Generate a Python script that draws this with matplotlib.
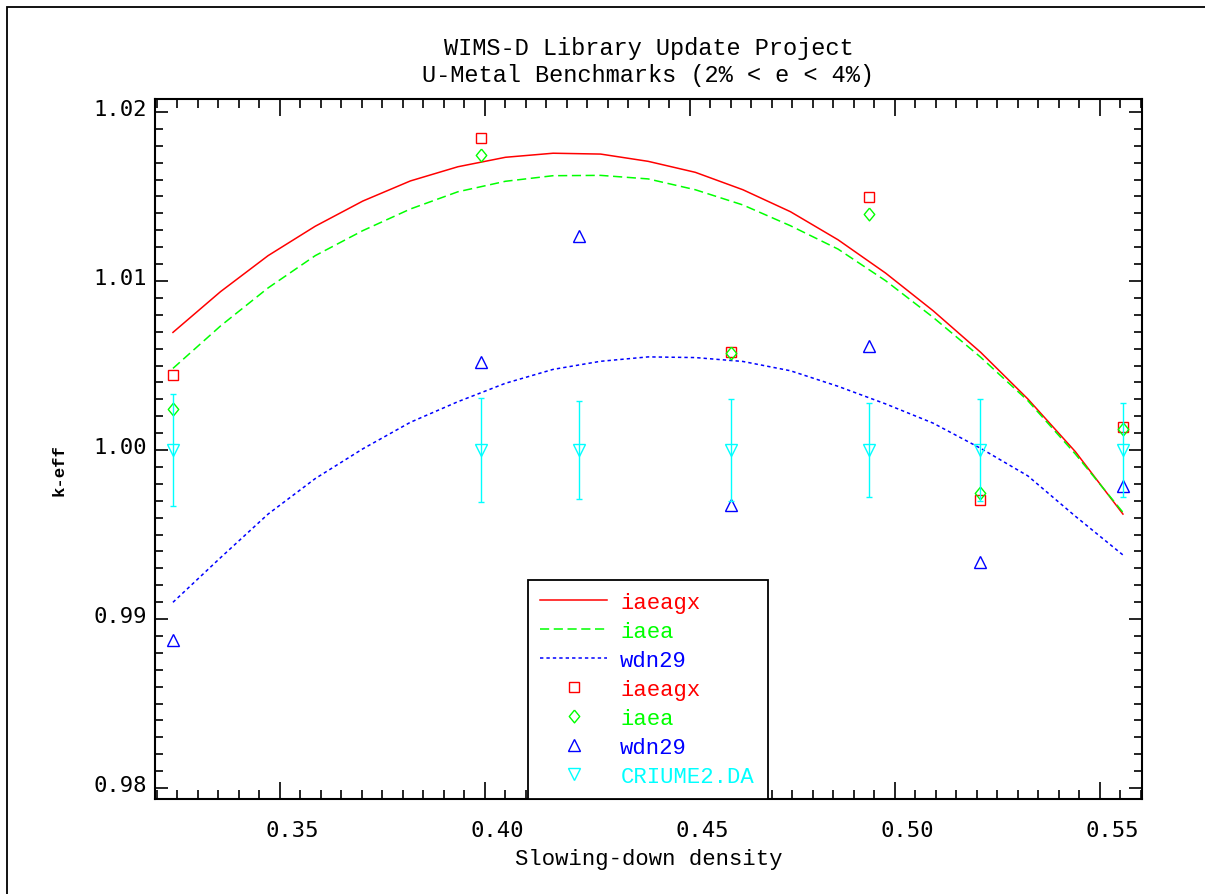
import matplotlib
matplotlib.use("Agg")
import matplotlib.pyplot as plt
from matplotlib.legend_handler import HandlerLine2D
from matplotlib.patches import Rectangle
from matplotlib.ticker import MultipleLocator, FormatStrFormatter
from matplotlib.transforms import ScaledTranslation

# Fitted k-eff curves against slowing-down density
sd_fit = [0.3239, 0.3355, 0.3471, 0.3586, 0.3702, 0.3818, 0.3934, 0.4050,
          0.4166, 0.4282, 0.4398, 0.4513, 0.4629, 0.4745, 0.4861, 0.4977,
          0.5093, 0.5209, 0.5324, 0.5440, 0.5556]
fit_iaeagx = [1.00696, 1.00937, 1.01150, 1.01324, 1.01473, 1.01592, 1.01676,
              1.01732, 1.01756, 1.01751, 1.01708, 1.01643, 1.01540, 1.01410,
              1.01244, 1.01047, 1.00824, 1.00578, 1.00302, 0.99990, 0.99621]
fit_iaea = [1.00483, 1.00734, 1.00959, 1.01150, 1.01298, 1.01426, 1.01528,
            1.01590, 1.01623, 1.01625, 1.01604, 1.01540, 1.01450, 1.01327,
            1.01189, 1.01002, 1.00785, 1.00549, 1.00292, 0.99976, 0.99631]
fit_wdn29 = [0.99099, 0.99363, 0.99621, 0.99831, 1.00007, 1.00164, 1.00286,
             1.00395, 1.00477, 1.00525, 1.00551, 1.00547, 1.00524, 1.00469,
             1.00377, 1.00273, 1.00159, 1.00010, 0.99847, 0.99608, 0.99379]

# Benchmark results
sd_lib = [0.3239, 0.3990, 0.4599, 0.4937, 0.5207, 0.5557]
keff_iaeagx = [1.00444, 1.01844, 1.00578, 1.01499, 0.99704, 1.00134]
keff_iaea = [1.00243, 1.01746, 1.00575, 1.01396, 0.99745, 1.00124]

sd_bench = [0.3239, 0.3990, 0.4229, 0.4599, 0.4937, 0.5207, 0.5557]
keff_wdn29 = [0.98878, 1.00521, 1.01264, 0.99675, 1.00617, 0.99337, 0.99785]
keff_exp = [1.0, 1.0, 1.0, 1.0, 1.0, 1.0, 1.0]
keff_exp_err = [0.0033, 0.0031, 0.0029, 0.0030, 0.0028, 0.0030, 0.0028]

RED, GREEN, BLUE, CYAN = "#ff0000", "#00ff00", "#0000ff", "#00ffff"
MONO = "Liberation Mono"
DIGITS = "DejaVu Sans Mono"

# open diamond, a bit narrower than tall
diamond = [(0, 1), (0.82, 0), (0, -1), (-0.82, 0), (0, 1)]


class MarkerAtEnd(HandlerLine2D):
    """Put the single legend marker at the right end of the handle box."""

    def get_xdata(self, legend, xdescent, ydescent, width, height, fontsize):
        return [-xdescent, -xdescent + width], [-xdescent + width - 0.3 * fontsize]


fig = plt.figure(figsize=(12.05, 8.95), dpi=100)
ax = fig.add_axes([0.1286, 0.1061, 0.8191, 0.7822])

l_gx, = ax.plot(sd_fit, fit_iaeagx, color=RED, lw=1.1, ls="-")
l_ia, = ax.plot(sd_fit, fit_iaea, color=GREEN, lw=1.1, ls=(0, (6, 3)))
l_wd, = ax.plot(sd_fit, fit_wdn29, color=BLUE, lw=1.1, ls=(0, (2.2, 2)))

m_gx, = ax.plot(sd_lib, keff_iaeagx, ls="none", marker="s", ms=7.6,
                mfc="none", mec=RED, mew=1.0)
m_ia, = ax.plot(sd_lib, keff_iaea, ls="none", marker=diamond, ms=9.2,
                mfc="none", mec=GREEN, mew=1.0)
m_wd, = ax.plot(sd_bench, keff_wdn29, ls="none", marker="^", ms=8.5,
                mfc="none", mec=BLUE, mew=1.0)
eb = ax.errorbar(sd_bench, keff_exp, yerr=keff_exp_err, fmt="v", ms=9,
                 mfc="none", mec=CYAN, mew=1.0, ecolor=CYAN, elinewidth=1.0,
                 capsize=2.5, capthick=1.0)
m_ex = eb.lines[0]

ax.set_xlim(0.31951, 0.56024)
ax.set_ylim(0.97935, 1.02077)
ax.xaxis.set_major_locator(MultipleLocator(0.05))
ax.xaxis.set_minor_locator(MultipleLocator(0.005))
ax.yaxis.set_major_locator(MultipleLocator(0.01))
ax.yaxis.set_minor_locator(MultipleLocator(0.001))
ax.xaxis.set_major_formatter(FormatStrFormatter("%.2f"))
ax.yaxis.set_major_formatter(FormatStrFormatter("%.2f"))

ax.tick_params(which="both", direction="in", top=True, right=True,
               width=1.2, labelsize=16)
ax.tick_params(axis="x", which="major", length=12, pad=15)
ax.tick_params(axis="x", which="minor", length=6.5)
ax.tick_params(axis="y", which="major", length=9.5, pad=6)
ax.tick_params(axis="y", which="minor", length=5.5)
for sp in ax.spines.values():
    sp.set_linewidth(1.5)

for lab in ax.get_xticklabels():
    lab.set_fontfamily(DIGITS)
    lab.set_transform(lab.get_transform()
                      + ScaledTranslation(0.12, 0, fig.dpi_scale_trans))
for lab in ax.get_yticklabels():
    lab.set_fontfamily(DIGITS)
    lab.set_transform(lab.get_transform()
                      + ScaledTranslation(0, 0.05, fig.dpi_scale_trans))

ax.set_title("WIMS-D Library Update Project\nU-Metal Benchmarks (2% < e < 4%)",
             fontfamily=MONO, fontsize=17, linespacing=1.22, pad=13)
ax.set_xlabel("Slowing-down density", fontfamily=MONO, fontsize=16)
ax.xaxis.set_label_coords(0.5, -0.07)
ax.set_ylabel("k-eff", fontfamily=MONO, fontsize=12.5, fontweight="bold")
ax.yaxis.set_label_coords(-0.09, 0.471)

handles = [l_gx, l_ia, l_wd, m_gx, m_ia, m_wd, m_ex]
labels = ["iaeagx", "iaea", "wdn29", "iaeagx", "iaea", "wdn29", "CRIUME2.DA"]
colors = [RED, GREEN, BLUE, RED, GREEN, BLUE, CYAN]
leg = ax.legend(handles, labels, loc="lower left",
                bbox_to_anchor=(0.378, 0.0, 0.243, 0.317), mode="expand",
                borderaxespad=0, fancybox=False, edgecolor="black",
                framealpha=1, prop={"family": MONO, "size": 16},
                labelcolor=colors, handlelength=3.0, handletextpad=0.6,
                labelspacing=0.36, borderpad=0.55,
                handler_map={h: MarkerAtEnd() for h in handles[3:]})
leg.get_frame().set_linewidth(1.3)

# page frame, cut at the right and bottom edges
fig.add_artist(Rectangle((7 / 1205, -0.1), 1.2, 0.1 + (895 - 8) / 895,
                         transform=fig.transFigure, fill=False,
                         lw=1.3, edgecolor="black"))

fig.savefig("out.png", dpi=100)
